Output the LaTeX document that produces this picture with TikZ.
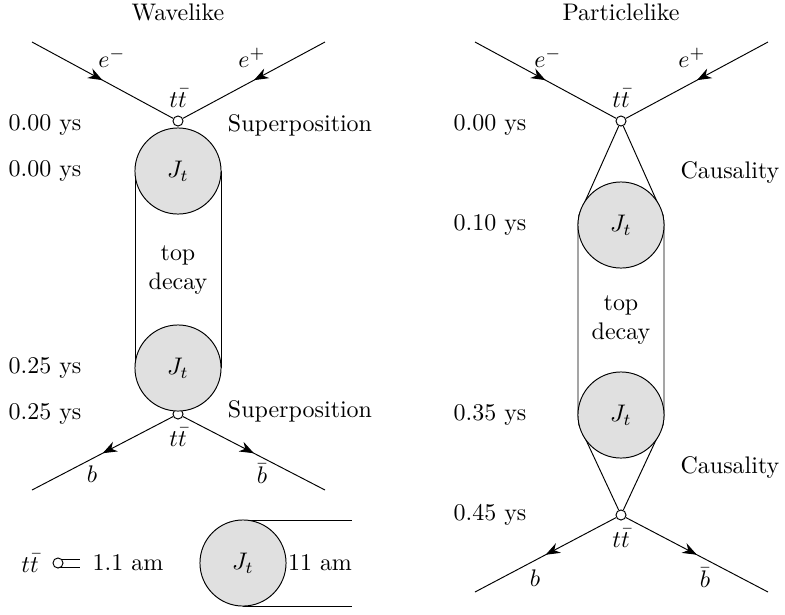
\documentclass[tikz,border=0pt]{standalone}
\usepackage{amsmath}
\usetikzlibrary{positioning, arrows.meta, decorations.markings}
\tikzset{
  blob/.style={circle,draw,fill=black!12,minimum size=35.9pt,inner sep=0pt},
  vtx/.style={circle,draw,fill=white,minimum size=4.2pt,inner sep=0pt},
  fermion/.style={postaction={decorate},decoration={markings,
    mark=at position 0.5 with {\arrow{Stealth[length=6pt,width=4.5pt]}}}},
}
\begin{document}
\begin{tikzpicture}[x=0.417pt,y=-0.417pt]
\useasboundingbox (0,0) rectangle (785,614);
% titles
\node (tw) at (178,12) {Wavelike};
\node (tp) at (621,12) {Particlelike};
% wavelike
\coordinate (wem) at (32,42);
\coordinate (wep) at (325,42);
\coordinate (wb) at (32,490);
\coordinate (wbb) at (325,490);
\node[vtx] (wv1) at (178,121) {};
\node[vtx] (wv2) at (178,414) {};
\draw (135,171) -- (135,368);
\draw (221,171) -- (221,368);
\node[blob] (wj1) at (178,171) {$J_t$};
\node[blob] (wj2) at (178,368) {$J_t$};
\draw[fermion] (wem) -- (wv1);
\draw[fermion] (wep) -- (wv1);
\draw[fermion] (wv2) -- (wb);
\draw[fermion] (wv2) -- (wbb);
\node at (112,58) {$e^-$};
\node at (252,58) {$e^+$};
\node at (92,474) {$b$};
\node at (262,474) {$\bar b$};
\node[above=0pt of wv1] {$t\bar t$};
\node[below=0pt of wv2] {$t\bar t$};
\node[align=center] at (178,270) {top\\decay};
\node at (45,125) {0.00 ys};
\node at (45,171) {0.00 ys};
\node at (45,368) {0.25 ys};
\node at (45,414) {0.25 ys};
\node at (300,125) {Superposition};
\node at (300,411) {Superposition};
% particlelike
\coordinate (pem) at (475,42);
\coordinate (pep) at (768,42);
\coordinate (pb) at (475,592);
\coordinate (pbb) at (768,592);
\node[vtx] (pv1) at (621,121) {};
\node[vtx] (pv2) at (621,515) {};
\draw (pv1) -- (579,215) -- (578,225) -- (578,415) -- (579,425) -- (pv2);
\draw (pv1) -- (663,215) -- (664,225) -- (664,415) -- (663,425) -- (pv2);
\node[blob] (pj1) at (621,225) {$J_t$};
\node[blob] (pj2) at (621,415) {$J_t$};
\draw[fermion] (pem) -- (pv1);
\draw[fermion] (pep) -- (pv1);
\draw[fermion] (pv2) -- (pb);
\draw[fermion] (pv2) -- (pbb);
\node at (548,58) {$e^-$};
\node at (692,58) {$e^+$};
\node at (535,578) {$b$};
\node at (705,578) {$\bar b$};
\node[above=0pt of pv1] {$t\bar t$};
\node[below=0pt of pv2] {$t\bar t$};
\node[align=center] at (621,320) {top\\decay};
\node at (490,125) {0.00 ys};
\node at (490,225) {0.10 ys};
\node at (490,415) {0.35 ys};
\node at (490,515) {0.45 ys};
\node at (730,172) {Causality};
\node at (730,467) {Causality};
% scale legend
\node (ltt) at (30,563) {$t\bar t$};
\draw (58,559) -- (80,559);
\draw (58,567) -- (80,567);
\node[vtx] (lv) at (58,563) {};
\node (lsmall) at (128,563) {1.1 am};
\draw (243,520) -- (352,520);
\draw (243,606) -- (352,606);
\node[blob] (lj) at (243,563) {$J_t$};
\node (lbig) at (320,563) {11 am};
\end{tikzpicture}
\end{document}
